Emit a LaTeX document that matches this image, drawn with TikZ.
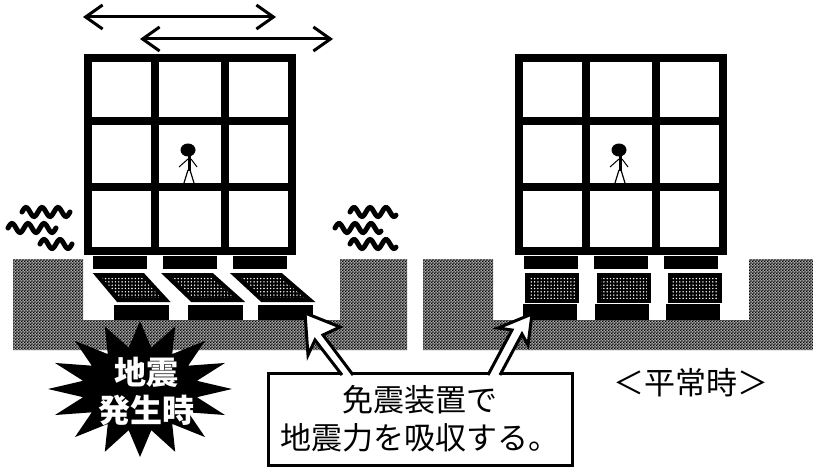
\documentclass[tikz,border=0pt]{standalone}
\usepackage{fontspec}
\usetikzlibrary{arrows.meta,patterns}
\newfontfamily\jp{Noto Sans CJK JP}

\pgfdeclarepatternformonly{fine checker}{\pgfqpoint{0pt}{0pt}}{\pgfqpoint{3.2pt}{3.2pt}}{\pgfqpoint{3.2pt}{3.2pt}}%
{
  \pgfpathrectangle{\pgfqpoint{0pt}{0pt}}{\pgfqpoint{1.6pt}{1.6pt}}
  \pgfpathrectangle{\pgfqpoint{1.6pt}{1.6pt}}{\pgfqpoint{1.6pt}{1.6pt}}
  \pgfusepath{fill}
}
\pgfdeclarepatternformonly{big dots}{\pgfqpoint{-1pt}{-1pt}}{\pgfqpoint{2pt}{2pt}}{\pgfqpoint{3.3pt}{3.3pt}}%
{
  \pgfpathcircle{\pgfqpoint{0pt}{0pt}}{0.8pt}
  \pgfusepath{fill}
}

\begin{document}
\begin{tikzpicture}[x=1pt,y=-1pt,
    bldframe/.style={line width=8pt},
    groundfill/.style={fill=black!35,postaction={pattern=fine checker,pattern color=black}},
    damper/.style={fill=black,postaction={pattern=big dots,pattern color=white},postaction={draw,line width=4pt}},
    quakewave/.style={line width=5pt,line cap=round},
    shake/.style={line width=3pt,{Straight Barb[length=17pt,width=24pt]}-{Straight Barb[length=17pt,width=24pt]}},
    pointer/.style={fill=white,line width=3pt},
    jptext/.style={font=\jp\fontsize{31}{38}\selectfont,align=center,inner sep=0pt}]
  \useasboundingbox (0,0) rectangle (813,470);

  % ground with pits
  \path[groundfill] (13,259) -- (83,259) -- (83,320) -- (340,320) -- (340,259) -- (407,259)
    -- (407,350) -- (13,350) -- cycle;
  \path[groundfill] (423,259) -- (493,259) -- (493,320) -- (749,320) -- (749,259) -- (813,259)
    -- (813,350) -- (423,350) -- cycle;

  % both buildings
  \foreach \bx in {0,431} {
    \begin{scope}[xshift=\bx]
      \draw[bldframe] (88,58) rectangle (292,251);
      \draw[bldframe] (155,58) -- (155,251) (225,58) -- (225,251);
      \draw[bldframe] (88,121.5) -- (292,121.5) (88,187.5) -- (292,187.5);
      \foreach \u in {93,163,233}
        \fill (\u,256) rectangle ++(54,13);
      % person
      \fill (188,150) ellipse (7.5 and 6.5);
      \draw[line width=3pt] (189,155) -- (189,171);
      \draw[line width=1pt] (188,159) -- (179,167) (191,159) -- (197,167);
      \draw[line width=1.2pt] (188,170) -- (184,183) (190,170) -- (194,183);
    \end{scope}
  }

  % dampers while shaking
  \foreach \u/\l in {94/114,163/188,232/258} {
    \path[damper] (\u+3,275) -- (\u+49,275) -- (\l+52,300) -- (\l+4,300) -- cycle;
    \fill (\l,305) rectangle ++(55,15);
  }

  % dampers at rest
  \foreach \u in {523,595,666} {
    \path[damper] (\u+4,275) rectangle ++(50,26);
    \fill (\u,304) rectangle ++(54,16);
  }

  % sway arrows
  \draw[shake] (83,17) -- (276,17);
  \draw[shake] (140,39) -- (333,39);

  % ground waves
  \foreach \wx/\wy/\wl in {22/212/48,8/228/48,40/244/32,350/212/46,335/228/46,350/244/46}
    \draw[quakewave] plot[domain=0:\wl,samples=40] ({\wx+\x},{\wy-4.5*sin(\x*22.5)});

  % burst
  \fill plot[samples at={0,...,31}]
    ({140+ifthenelse(mod(\x,2)==0,92,58)*cos(\x*11.25)},{389+ifthenelse(mod(\x,2)==0,68,42)*sin(\x*11.25)}) -- cycle;
  \node[jptext,text=white,font=\jp\bfseries\fontsize{32}{38}\selectfont] (quake) at (146,391) {地震\\発生時};

  % callout
  \node[jptext,draw,line width=3pt,minimum width=304pt,minimum height=92pt] (absorb) at (420,419)
    {免震装置で\\地震力を吸収する。};
  \draw[pointer] (342,375) -- (315,340) -- (308,355) -- (305,313) -- (340,327) -- (323,335) -- (353,375);
  \draw[pointer] (488,375) -- (512,330) -- (498,328) -- (532,314) -- (528,345) -- (522,334) -- (500,375);

  \node[jptext] (normal) at (691,383) {＜平常時＞};
\end{tikzpicture}
\end{document}
